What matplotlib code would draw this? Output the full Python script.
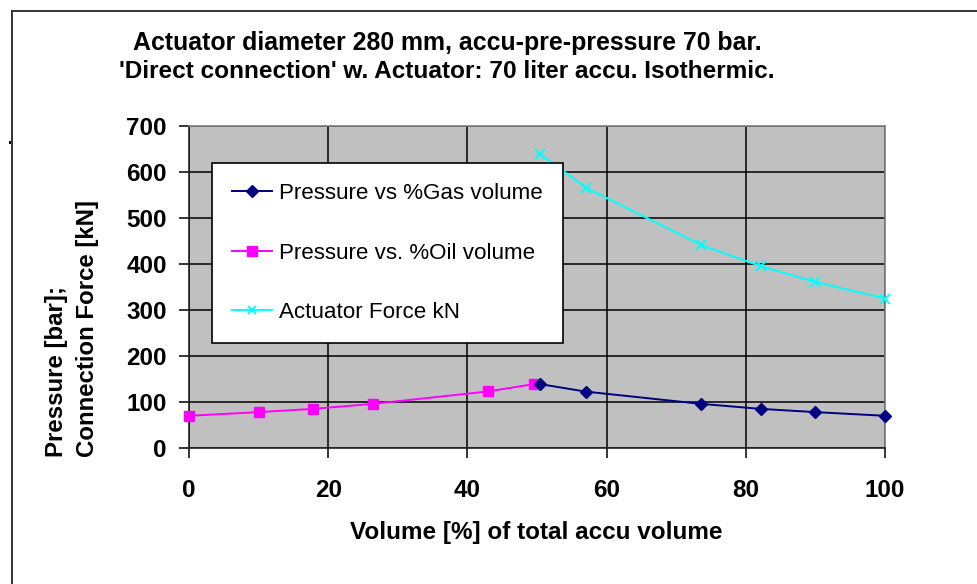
import matplotlib
matplotlib.use("Agg")
import matplotlib.pyplot as plt
from matplotlib.lines import Line2D
from matplotlib.patches import Rectangle

plt.rcParams['font.family'] = ['Liberation Sans', 'DejaVu Sans']

# Accumulator pressure as the oil fraction grows (isothermal compression)
oil_volume_pct = [0, 10, 17.8, 26.5, 43, 49.6]
oil_pressure_bar = [70, 78, 85, 96, 123, 139]

# Same states plotted against the remaining gas fraction
gas_volume_pct = [50.4, 57, 73.5, 82.2, 90, 100]
gas_pressure_bar = [139, 122.6, 96, 85, 78, 70]

# Resulting actuator force at the gas-volume states
actuator_force_kn = [640, 566, 442, 395, 361, 325]

x_ticks = [0, 20, 40, 60, 80, 100]
y_ticks = [0, 100, 200, 300, 400, 500, 600, 700]

W, H = 978, 584
fig = plt.figure(figsize=(W / 100, H / 100), dpi=100)

ax = fig.add_axes([189 / W, 1 - 448 / H, (885 - 189) / W, (448 - 126) / H])
ax.set_facecolor('#C0C0C0')
ax.set_xlim(0, 100)
ax.set_ylim(0, 700)
ax.set_xticks(x_ticks)
ax.set_yticks(y_ticks)
ax.grid(True, color='black', linewidth=1.1)
ax.set_axisbelow(True)
ax.spines['top'].set_color('#808080')
ax.spines['right'].set_color('#808080')
ax.spines['left'].set_color('#222222')
ax.spines['bottom'].set_color('#222222')
for s in ax.spines.values():
    s.set_linewidth(1.2)
ax.tick_params(axis='both', direction='out', length=7, width=1.1, color='black',
               labelsize=17.5)
ax.tick_params(axis='x', pad=15)
ax.tick_params(axis='y', pad=9)
for lab in ax.get_xticklabels() + ax.get_yticklabels():
    lab.set_fontweight('bold')

l1, = ax.plot(gas_volume_pct, gas_pressure_bar, color='#000080', linewidth=1.4,
              marker='D', markersize=6.5, markeredgecolor='#000080',
              label='Pressure vs %Gas volume', clip_on=False, zorder=4)
l2, = ax.plot(oil_volume_pct, oil_pressure_bar, color='#FF00FF', linewidth=1.4,
              marker='s', markersize=7.5, markeredgecolor='#FF00FF',
              label='Pressure vs. %Oil volume', clip_on=False, zorder=3)
l3, = ax.plot(gas_volume_pct, actuator_force_kn, color='#00FFFF', linewidth=1.4,
              marker='x', markersize=7, markeredgewidth=1.4,
              label='Actuator Force kN', clip_on=False, zorder=4)

leg = fig.legend(handles=[l1, l2, l3], loc='upper left',
                 bbox_to_anchor=(212 / W, 1 - 163 / H),
                 bbox_transform=fig.transFigure, borderaxespad=0,
                 fontsize=16.1, frameon=True, fancybox=False, framealpha=1,
                 edgecolor='black', facecolor='white', handlelength=1.8,
                 handletextpad=0.3, labelspacing=1.72, borderpad=0.9,
                 markerscale=0.9)
leg.get_frame().set_linewidth(1.2)
leg.set_zorder(10)

fig.text(447 / W, 1 - 43 / H, 'Actuator diameter 280 mm, accu-pre-pressure 70 bar.',
         ha='center', va='center', fontsize=17.9, fontweight='bold')
fig.text(447 / W, 1 - 71 / H, "'Direct connection' w. Actuator: 70 liter accu. Isothermic.",
         ha='center', va='center', fontsize=17.6, fontweight='bold')
fig.text(536 / W, 1 - 533 / H, 'Volume [%] of total accu volume',
         ha='center', va='center', fontsize=17.5, fontweight='bold')
fig.text(72 / W, 1 - 457 / H, 'Pressure [bar];\nConnection Force [kN]',
         ha='center', va='bottom', rotation=90, multialignment='left',
         fontsize=17.3, fontweight='bold', linespacing=1.4)

# Outer chart-area frame (left and top edges)
fig.add_artist(Line2D([12 / W, 12 / W], [0, 1 - 11 / H], transform=fig.transFigure,
                      color='#333333', linewidth=1.4))
fig.add_artist(Line2D([12 / W, 1], [1 - 11 / H, 1 - 11 / H], transform=fig.transFigure,
                      color='#333333', linewidth=1.4))
fig.add_artist(Rectangle((9 / W, 1 - 144 / H), 2 / W, 3 / H, transform=fig.transFigure,
                         color='black', linewidth=0))

fig.savefig('out.png', dpi=100)
